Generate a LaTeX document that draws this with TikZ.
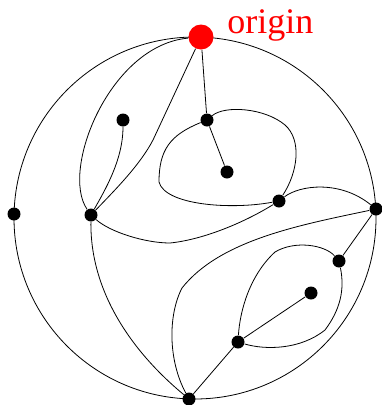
\documentclass[tikz,border=0pt]{standalone}
\usepackage{fontspec}
\setmainfont{Liberation Serif}
\usetikzlibrary{positioning}
\tikzset{dot/.style={circle,fill=black,inner sep=0pt,minimum size=13pt},root/.style={circle,fill=red,inner sep=0pt,minimum size=25pt},edge/.style={line width=0.8pt},tag/.style={text=red,font=\fontsize{36}{36}\selectfont,inner sep=0pt}}

\begin{document}
\begin{tikzpicture}[x=1pt,y=-1pt,edge]
\useasboundingbox (0,0) rectangle (382,405);
\coordinate (c) at (195,218);
\draw (c) circle (181);
% vertices
\node[root] (o) at (201,37) {};
\node[tag,anchor=base west] (lbl) at (227,33) {origin};
\node[dot] (l) at (14,214) {};
\node[dot] (a) at (91,215) {};
\node[dot] (b) at (123,120) {};
\node[dot] (c1) at (207,120) {};
\node[dot] (d) at (227,172) {};
\node[dot] (e) at (279,201) {};
\node[dot] (r) at (376,209) {};
\node[dot] (f) at (339,261) {};
\node[dot] (g) at (311,293) {};
\node[dot] (h) at (238,342) {};
\node[dot] (bot) at (189,399) {};
% edges
\draw (o) .. controls (110,45) and (60,170) .. (a);
\draw (o) -- (153,140) .. controls (140,165) and (115,190) .. (a);
\draw (b) .. controls (123,160) and (105,190) .. (a);
\draw (o) -- (c1); \draw (c1) -- (d);
\draw (c1) .. controls (170,135) and (159,150) .. (159,182) .. controls (165,205) and (230,210) .. (e);
\draw (e) .. controls (298,172) and (302,140) .. (285,125) .. controls (265,108) and (225,105) .. (c1);
\draw (a) .. controls (110,232) and (145,243) .. (170,243) .. controls (200,240) and (240,225) .. (e);
\draw (e) .. controls (300,185) and (340,180) .. (r);
\draw (r) .. controls (300,225) and (220,240) .. (182,288) .. controls (168,315) and (168,360) .. (bot);
\draw (r) -- (f);
\draw (f) .. controls (325,245) and (295,240) .. (275,252) .. controls (250,275) and (240,310) .. (h);
\draw (f) .. controls (345,290) and (340,310) .. (325,330) .. controls (300,350) and (265,350) .. (h);
\draw (h) -- (g);
\draw (h) -- (bot);
\draw (a) .. controls (90,290) and (130,350) .. (bot);
\end{tikzpicture}
\end{document}
